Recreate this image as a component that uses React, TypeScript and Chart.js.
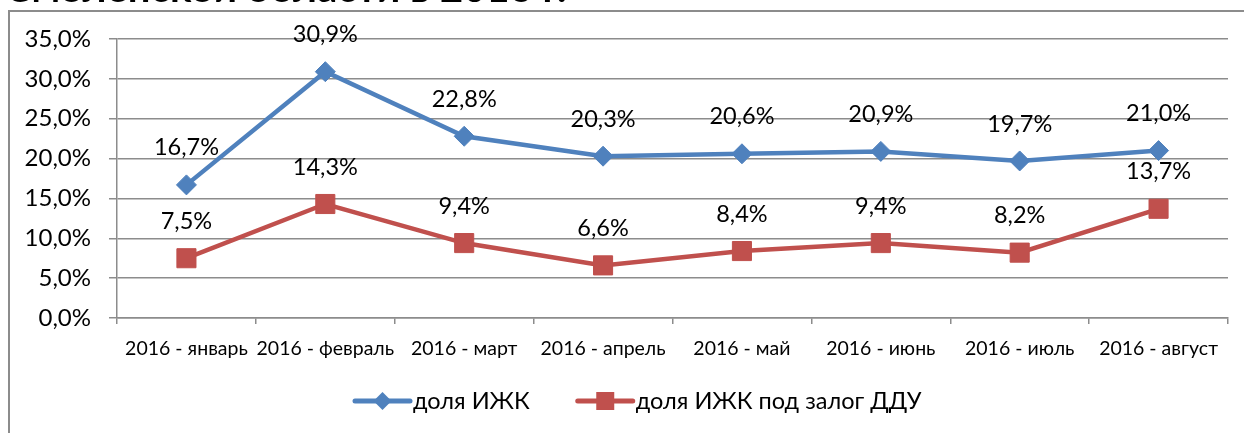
import React, { useEffect, useRef } from "react";
import { Chart, registerables } from "chart.js";

Chart.register(...registerables);

// ---- data ----
const titleText = "Смоленской области в 2016 г.";
const categories = [
  "2016 - январь",
  "2016 - февраль",
  "2016 - март",
  "2016 - апрель",
  "2016 - май",
  "2016 - июнь",
  "2016 - июль",
  "2016 - август",
];
const seriesNames = ["доля ИЖК", "доля ИЖК под залог ДДУ"];
const shareIZhK = [16.7, 30.9, 22.8, 20.3, 20.6, 20.9, 19.7, 21.0];
const shareDDU = [7.5, 14.3, 9.4, 6.6, 8.4, 9.4, 8.2, 13.7];
const yMin = 0;
const yMax = 35;
const yStep = 5;

// ---- styles ----
const FONT = "Lato, 'Open Sans', sans-serif";
const BLUE = "#4F81BD";
const RED = "#C0504D";
const GRID = "#8c8c8c";

const fmt = (v: number) => v.toFixed(1).replace(".", ",") + "%";

const titlePlugin = {
  id: "clippedTitle",
  afterDraw(chart: any) {
    const ctx = chart.ctx;
    ctx.save();
    ctx.font = `bold 40px ${FONT}`;
    ctx.fillStyle = "#000";
    ctx.textAlign = "left";
    ctx.textBaseline = "alphabetic";
    ctx.fillText(titleText, 5, 2);
    ctx.restore();
  },
};

const dataLabelPlugin = {
  id: "dataLabels",
  afterDatasetsDraw(chart: any) {
    const ctx = chart.ctx;
    ctx.save();
    ctx.font = `23.5px ${FONT}`;
    ctx.fillStyle = "#000";
    ctx.textAlign = "center";
    ctx.textBaseline = "middle";
    chart.data.datasets.forEach((ds: any, i: number) => {
      const meta = chart.getDatasetMeta(i);
      meta.data.forEach((el: any, j: number) => {
        ctx.fillText(fmt(ds.data[j]), el.x, el.y - 37);
      });
    });
    ctx.restore();
  },
};

const legendPlugin = {
  id: "customLegend",
  afterDraw(chart: any) {
    const ctx = chart.ctx;
    ctx.save();
    ctx.font = `23.5px ${FONT}`;
    ctx.textBaseline = "middle";
    ctx.textAlign = "left";
    let x = 355;
    const y = 401;
    chart.data.datasets.forEach((ds: any) => {
      ctx.strokeStyle = ds.borderColor;
      ctx.lineWidth = 5;
      ctx.lineCap = "round";
      ctx.beginPath();
      ctx.moveTo(x, y);
      ctx.lineTo(x + 55, y);
      ctx.stroke();
      ctx.fillStyle = ds.pointBackgroundColor;
      ctx.beginPath();
      const cx = x + 27.5;
      if (ds.pointStyle === "rectRot") {
        const r = 9;
        ctx.moveTo(cx - r, y);
        ctx.lineTo(cx, y - r);
        ctx.lineTo(cx + r, y);
        ctx.lineTo(cx, y + r);
        ctx.closePath();
      } else {
        const h = 9;
        ctx.rect(cx - h, y - h, 2 * h, 2 * h);
      }
      ctx.fill();
      ctx.fillStyle = "#000";
      ctx.fillText(ds.label, x + 58, y);
      x += 58 + ctx.measureText(ds.label).width + 48;
    });
    ctx.restore();
  },
};

function LineChart() {
  const ref = useRef<HTMLCanvasElement>(null);
  useEffect(() => {
    if (!ref.current) return;
    const chart = new Chart(ref.current, {
      type: "line",
      data: {
        labels: categories,
        datasets: [
          {
            label: seriesNames[0],
            data: shareIZhK,
            borderColor: BLUE,
            backgroundColor: BLUE,
            pointBackgroundColor: BLUE,
            pointBorderColor: BLUE,
            pointStyle: "rectRot",
            pointRadius: 10,
            pointBorderWidth: 1,
            borderWidth: 4.5,
            tension: 0,
          },
          {
            label: seriesNames[1],
            data: shareDDU,
            borderColor: RED,
            backgroundColor: RED,
            pointBackgroundColor: RED,
            pointBorderColor: RED,
            pointStyle: "rect",
            pointRadius: 13.5,
            pointBorderWidth: 1,
            borderWidth: 4.5,
            tension: 0,
          },
        ],
      },
      options: {
        responsive: false,
        animation: false,
        devicePixelRatio: 1,
        layout: { padding: { top: 39, right: 16, left: 0, bottom: 0 } },
        plugins: {
          legend: { display: false },
          title: { display: false },
          tooltip: { enabled: false },
        },
        scales: {
          x: {
            offset: true,
            grid: {
              offset: true,
              drawOnChartArea: false,
              drawTicks: true,
              tickLength: 6,
              color: GRID,
              lineWidth: 1.5,
            },
            border: { display: true, color: GRID, width: 1.5 },
            ticks: {
              color: "#000",
              font: { family: FONT, size: 19.5 },
              padding: 13,
              maxRotation: 0,
              autoSkip: false,
            },
            afterFit(scale: any) {
              scale.height = 115;
            },
          },
          y: {
            min: yMin,
            max: yMax,
            grid: {
              color: GRID,
              lineWidth: 1.5,
              drawTicks: true,
              tickLength: 8,
            },
            border: { display: true, color: GRID, width: 1.5 },
            ticks: {
              stepSize: yStep,
              color: "#000",
              font: { family: FONT, size: 24 },
              padding: 18,
              callback: (v: any) => fmt(Number(v)),
            },
            afterFit(scale: any) {
              scale.width = 117;
            },
          },
        },
      } as any,
      plugins: [dataLabelPlugin, legendPlugin, titlePlugin],
    });
    return () => chart.destroy();
  }, []);
  return (
    <canvas
      ref={ref}
      width={1244}
      height={433}
      style={{ position: "absolute", left: 0, top: 0, width: 1244, height: 433 }}
    />
  );
}

export default function App() {
  return (
    <div
      style={{
        position: "fixed",
        left: 0,
        top: 0,
        width: 1244,
        height: 433,
        overflow: "hidden",
        background: "#fff",
      }}
    >
      <div
        style={{
          position: "absolute",
          left: 8,
          top: 10,
          width: 1400,
          height: 600,
          border: "2px solid #8c8c8c",
        }}
      />
      <LineChart />
    </div>
  );
}
